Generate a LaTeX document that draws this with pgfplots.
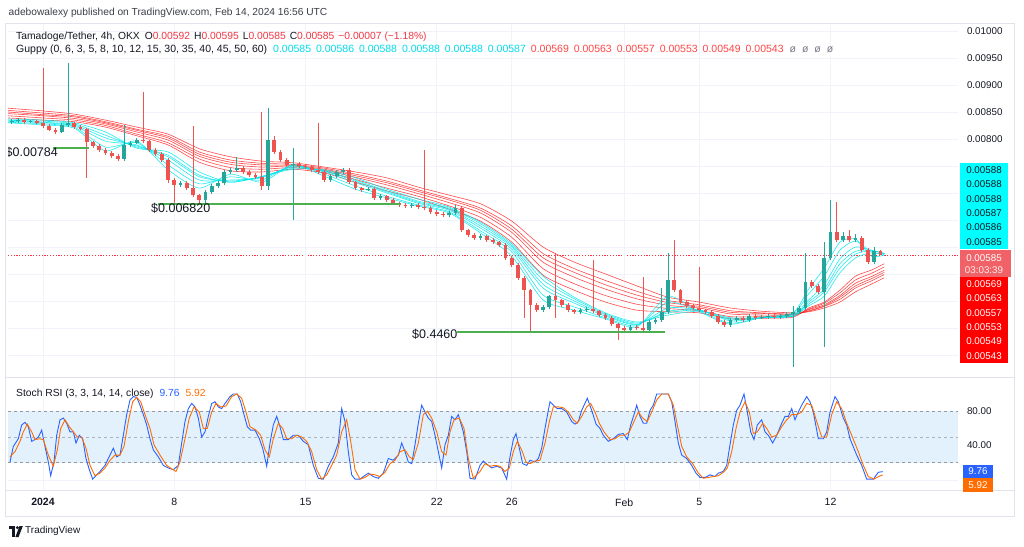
\documentclass[border=0pt]{standalone}
\usepackage{fontspec}
\setmainfont{Liberation Sans}
\usepackage{pgfplots}
\usepackage{pgfplotstable}
\pgfplotsset{compat=1.18}
\definecolor{tvup}{RGB}{38,166,154}
\definecolor{tvdn}{RGB}{239,83,80}
\definecolor{gcyan}{RGB}{0,232,238}
\definecolor{gred}{RGB}{255,30,30}
\definecolor{gridc}{RGB}{240,243,250}
\definecolor{framec}{RGB}{224,227,235}
\definecolor{txt}{RGB}{19,23,34}
\definecolor{hdr}{RGB}{60,63,72}
\definecolor{valred}{RGB}{242,54,69}
\definecolor{legred}{RGB}{255,70,70}
\definecolor{legcyan}{RGB}{0,220,235}
\definecolor{kblue}{RGB}{41,98,255}
\definecolor{dorange}{RGB}{255,109,0}
\definecolor{band}{RGB}{227,241,253}
\definecolor{dashc}{RGB}{150,152,161}
\definecolor{curr}{RGB}{240,98,104}
\definecolor{boxcyan}{RGB}{0,255,255}
\definecolor{boxred}{RGB}{255,0,0}
\definecolor{ograyc}{RGB}{120,123,134}
\newcommand\fs[1]{\fontsize{#1}{#1}\selectfont}

\pgfplotstableread{
k o h l c
-5 0.00831 0.00837 0.00828 0.00833
-4 0.00833 0.00839 0.00830 0.00835
-2 0.00831 0.00836 0.00829 0.00833
3 0.00813 0.00829 0.00811 0.00826
4 0.00826 0.00941 0.00823 0.00830
13 0.00763 0.00826 0.00760 0.00789
14 0.00789 0.00797 0.00786 0.00793
15 0.00793 0.00802 0.00790 0.00798
22 0.00715 0.00722 0.00711 0.00718
26 0.00687 0.00706 0.00680 0.00702
27 0.00702 0.00717 0.00699 0.00713
28 0.00713 0.00722 0.00709 0.00718
29 0.00718 0.00743 0.00715 0.00739
30 0.00739 0.00747 0.00735 0.00743
31 0.00743 0.00767 0.00739 0.00746
36 0.00713 0.00857 0.00706 0.00798
40 0.00752 0.00783 0.00650 0.00754
46 0.00724 0.00735 0.00720 0.00731
47 0.00731 0.00743 0.00727 0.00739
48 0.00739 0.00747 0.00735 0.00743
52 0.00706 0.00711 0.00703 0.00707
54 0.00691 0.00698 0.00687 0.00694
59 0.00676 0.00682 0.00672 0.00678
65 0.00659 0.00667 0.00655 0.00663
66 0.00663 0.00678 0.00659 0.00672
70 0.00617 0.00624 0.00613 0.00620
80 0.00483 0.00493 0.00479 0.00489
81 0.00489 0.00512 0.00485 0.00509
86 0.00480 0.00487 0.00476 0.00483
87 0.00483 0.00489 0.00480 0.00485
94 0.00446 0.00456 0.00442 0.00452
97 0.00446 0.00465 0.00442 0.00461
98 0.00461 0.00469 0.00457 0.00465
99 0.00465 0.00524 0.00461 0.00480
100 0.00480 0.00589 0.00476 0.00539
110 0.00456 0.00469 0.00452 0.00465
111 0.00465 0.00473 0.00461 0.00469
113 0.00465 0.00476 0.00461 0.00472
115 0.00469 0.00474 0.00466 0.00470
116 0.00470 0.00476 0.00467 0.00472
118 0.00470 0.00476 0.00467 0.00472
119 0.00472 0.00480 0.00468 0.00476
120 0.00476 0.00491 0.00378 0.00480
121 0.00480 0.00491 0.00476 0.00487
122 0.00487 0.00589 0.00483 0.00535
125 0.00517 0.00609 0.00415 0.00580
126 0.00580 0.00687 0.00576 0.00628
128 0.00613 0.00628 0.00609 0.00620
130 0.00613 0.00624 0.00609 0.00617
133 0.00572 0.00600 0.00568 0.00592
}\upc

\pgfplotstableread{
k o h l c
-3 0.00835 0.00838 0.00828 0.00831
-1 0.00833 0.00836 0.00827 0.00830
0 0.00830 0.00931 0.00821 0.00824
1 0.00824 0.00827 0.00814 0.00817
2 0.00817 0.00820 0.00809 0.00813
5 0.00830 0.00832 0.00819 0.00822
6 0.00822 0.00825 0.00816 0.00819
7 0.00819 0.00821 0.00728 0.00794
8 0.00794 0.00797 0.00783 0.00787
9 0.00787 0.00790 0.00776 0.00780
10 0.00780 0.00783 0.00770 0.00774
11 0.00774 0.00777 0.00765 0.00769
12 0.00769 0.00772 0.00759 0.00763
16 0.00798 0.00887 0.00792 0.00796
17 0.00796 0.00799 0.00776 0.00780
18 0.00780 0.00783 0.00768 0.00772
19 0.00772 0.00775 0.00757 0.00761
20 0.00761 0.00764 0.00719 0.00724
21 0.00724 0.00728 0.00681 0.00715
23 0.00718 0.00722 0.00705 0.00709
24 0.00709 0.00824 0.00692 0.00696
25 0.00696 0.00699 0.00678 0.00687
32 0.00746 0.00750 0.00735 0.00739
33 0.00739 0.00742 0.00729 0.00733
34 0.00733 0.00737 0.00726 0.00730
35 0.00730 0.00850 0.00705 0.00713
37 0.00798 0.00805 0.00772 0.00776
38 0.00776 0.00780 0.00757 0.00761
39 0.00761 0.00764 0.00748 0.00752
41 0.00754 0.00757 0.00746 0.00750
42 0.00750 0.00753 0.00744 0.00748
43 0.00748 0.00751 0.00739 0.00743
44 0.00743 0.00830 0.00735 0.00739
45 0.00739 0.00742 0.00720 0.00724
49 0.00743 0.00746 0.00716 0.00720
50 0.00720 0.00723 0.00705 0.00709
51 0.00709 0.00712 0.00702 0.00706
53 0.00707 0.00710 0.00687 0.00691
55 0.00694 0.00697 0.00683 0.00687
56 0.00687 0.00690 0.00677 0.00681
57 0.00681 0.00684 0.00674 0.00678
58 0.00678 0.00681 0.00672 0.00676
60 0.00678 0.00681 0.00670 0.00674
61 0.00674 0.00780 0.00668 0.00672
62 0.00672 0.00675 0.00661 0.00665
63 0.00665 0.00668 0.00657 0.00661
64 0.00661 0.00664 0.00655 0.00659
67 0.00672 0.00675 0.00627 0.00631
68 0.00631 0.00634 0.00618 0.00622
69 0.00622 0.00625 0.00613 0.00617
71 0.00620 0.00623 0.00609 0.00613
72 0.00613 0.00616 0.00605 0.00609
73 0.00609 0.00612 0.00600 0.00604
74 0.00604 0.00607 0.00576 0.00580
75 0.00580 0.00583 0.00563 0.00567
76 0.00567 0.00570 0.00539 0.00543
77 0.00543 0.00546 0.00469 0.00520
78 0.00520 0.00523 0.00441 0.00493
79 0.00493 0.00496 0.00479 0.00483
82 0.00509 0.00589 0.00469 0.00501
83 0.00501 0.00504 0.00489 0.00493
84 0.00493 0.00496 0.00479 0.00483
85 0.00483 0.00486 0.00476 0.00480
88 0.00485 0.00576 0.00477 0.00481
89 0.00481 0.00484 0.00470 0.00474
90 0.00474 0.00477 0.00465 0.00469
91 0.00469 0.00472 0.00453 0.00457
92 0.00457 0.00460 0.00428 0.00450
93 0.00450 0.00453 0.00442 0.00446
95 0.00452 0.00455 0.00446 0.00450
96 0.00450 0.00544 0.00441 0.00446
101 0.00539 0.00613 0.00516 0.00520
102 0.00520 0.00523 0.00494 0.00498
103 0.00498 0.00501 0.00487 0.00491
104 0.00491 0.00494 0.00483 0.00487
105 0.00487 0.00563 0.00479 0.00483
106 0.00483 0.00486 0.00476 0.00480
107 0.00480 0.00483 0.00468 0.00472
108 0.00472 0.00475 0.00457 0.00461
109 0.00461 0.00464 0.00452 0.00456
112 0.00469 0.00472 0.00461 0.00465
114 0.00472 0.00475 0.00465 0.00469
117 0.00472 0.00475 0.00466 0.00470
123 0.00535 0.00539 0.00524 0.00528
124 0.00528 0.00531 0.00513 0.00517
127 0.00628 0.00683 0.00609 0.00613
129 0.00620 0.00631 0.00609 0.00613
131 0.00617 0.00620 0.00590 0.00594
132 0.00594 0.00598 0.00568 0.00572
134 0.00592 0.00595 0.00585 0.00585
}\dnc

\pgfplotstableread{
k e3 e5 e8 e10 e12 e15 r30 r35 r40 r45 r50 r60
-5.6 0.00830 0.00831 0.00833 0.00835 0.00835 0.00837 0.00839 0.00843 0.00847 0.00850 0.00853 0.00857
0 0.00826 0.00828 0.00830 0.00831 0.00833 0.00835 0.00835 0.00839 0.00843 0.00845 0.00848 0.00852
5 0.00820 0.00822 0.00824 0.00826 0.00828 0.00830 0.00832 0.00835 0.00838 0.00841 0.00843 0.00846
10 0.00778 0.00785 0.00796 0.00802 0.00807 0.00813 0.00822 0.00825 0.00828 0.00830 0.00832 0.00835
15 0.00796 0.00793 0.00789 0.00787 0.00785 0.00783 0.00806 0.00809 0.00813 0.00816 0.00818 0.00822
20 0.00743 0.00752 0.00761 0.00767 0.00770 0.00776 0.00789 0.00793 0.00798 0.00802 0.00805 0.00809
25 0.00709 0.00717 0.00724 0.00730 0.00733 0.00739 0.00757 0.00763 0.00768 0.00772 0.00776 0.00782
30 0.00735 0.00730 0.00724 0.00722 0.00720 0.00720 0.00741 0.00747 0.00753 0.00757 0.00761 0.00767
35 0.00720 0.00724 0.00728 0.00730 0.00730 0.00731 0.00739 0.00744 0.00748 0.00752 0.00755 0.00759
40 0.00752 0.00752 0.00750 0.00748 0.00746 0.00744 0.00744 0.00747 0.00750 0.00751 0.00753 0.00756
45 0.00731 0.00735 0.00739 0.00741 0.00741 0.00743 0.00737 0.00740 0.00742 0.00744 0.00746 0.00748
50 0.00707 0.00713 0.00719 0.00722 0.00724 0.00728 0.00720 0.00725 0.00729 0.00732 0.00735 0.00739
55 0.00691 0.00694 0.00700 0.00702 0.00704 0.00707 0.00704 0.00709 0.00715 0.00719 0.00722 0.00728
60 0.00676 0.00678 0.00681 0.00683 0.00685 0.00689 0.00689 0.00694 0.00699 0.00703 0.00706 0.00711
65 0.00663 0.00665 0.00668 0.00670 0.00672 0.00674 0.00670 0.00676 0.00682 0.00687 0.00690 0.00696
70 0.00626 0.00630 0.00635 0.00639 0.00643 0.00646 0.00648 0.00655 0.00663 0.00668 0.00672 0.00680
75 0.00583 0.00591 0.00596 0.00600 0.00603 0.00606 0.00609 0.00618 0.00627 0.00633 0.00639 0.00648
80 0.00502 0.00511 0.00524 0.00531 0.00539 0.00546 0.00548 0.00560 0.00572 0.00580 0.00588 0.00600
85 0.00483 0.00489 0.00496 0.00500 0.00504 0.00507 0.00520 0.00532 0.00544 0.00553 0.00560 0.00572
90 0.00467 0.00469 0.00472 0.00474 0.00476 0.00478 0.00498 0.00510 0.00522 0.00530 0.00538 0.00550
95 0.00452 0.00454 0.00456 0.00457 0.00459 0.00461 0.00483 0.00494 0.00504 0.00511 0.00518 0.00528
100 0.00509 0.00498 0.00487 0.00481 0.00478 0.00474 0.00480 0.00486 0.00492 0.00497 0.00501 0.00507
105 0.00480 0.00481 0.00483 0.00483 0.00483 0.00481 0.00478 0.00482 0.00487 0.00490 0.00493 0.00498
110 0.00457 0.00459 0.00463 0.00465 0.00467 0.00469 0.00467 0.00471 0.00476 0.00479 0.00482 0.00487
115 0.00470 0.00469 0.00469 0.00469 0.00469 0.00469 0.00468 0.00471 0.00474 0.00477 0.00478 0.00481
120 0.00478 0.00476 0.00474 0.00472 0.00472 0.00472 0.00470 0.00472 0.00474 0.00475 0.00476 0.00478
122.5 0.00522 0.00513 0.00502 0.00498 0.00494 0.00491 0.00487 0.00485 0.00484 0.00482 0.00481 0.00480
125 0.00561 0.00546 0.00530 0.00522 0.00517 0.00509 0.00498 0.00496 0.00493 0.00491 0.00490 0.00487
127.5 0.00609 0.00594 0.00578 0.00569 0.00561 0.00552 0.00520 0.00515 0.00510 0.00507 0.00503 0.00498
130 0.00615 0.00611 0.00600 0.00592 0.00587 0.00580 0.00546 0.00539 0.00533 0.00528 0.00524 0.00517
132.5 0.00583 0.00591 0.00594 0.00594 0.00593 0.00589 0.00557 0.00551 0.00545 0.00541 0.00537 0.00531
134.6 0.00585 0.00586 0.00588 0.00588 0.00588 0.00587 0.00569 0.00563 0.00557 0.00553 0.00549 0.00543
}\gmma

\pgfplotstableread{
k v
-5.28 21
-4.75 39
-3.95 48
-3.41 64
-2.88 67
-2.35 62
-1.81 45
-1.28 47
-0.75 50
-0.21 58
0.32 39
0.85 21
1.23 5
1.76 21
2.19 52
2.72 70
3.25 72
3.79 66
4.32 56
4.85 56
5.28 43
5.81 52
6.35 48
6.88 25
7.41 12
7.95 1
8.59 6
9.12 10
9.92 17
10.72 29
11.25 37
11.79 27
12.32 29
12.85 52
13.39 76
13.92 93
14.45 97
14.99 96
15.52 87
16.05 76
16.59 64
17.12 48
17.65 35
18.45 27
19.25 17
20.05 14
20.85 12
21.65 17
22.19 43
22.72 68
23.25 83
23.79 89
24.32 85
24.85 72
25.39 50
25.92 56
26.45 74
26.99 89
27.52 91
28.05 85
28.59 83
29.12 89
29.92 97
30.45 100
31.09 100
31.63 91
32.16 76
32.69 62
33.23 58
33.92 58
34.61 48
35.15 37
35.79 16
36.32 43
36.85 64
37.39 74
37.92 62
38.45 47
39.25 47
40.05 52
40.85 52
41.65 45
42.45 41
43.25 17
44.05 2
44.85 1
45.65 16
46.45 27
47.25 43
47.79 83
48.32 68
48.85 33
49.39 6
49.92 1
50.72 1
51.25 4
52.05 8
52.85 4
53.65 2
54.45 8
55.25 25
56.05 23
56.85 29
57.39 43
57.92 33
58.45 21
58.99 19
59.52 41
60.05 66
60.59 87
61.12 79
61.65 72
62.19 68
62.72 52
63.25 33
63.79 14
64.32 41
64.85 52
65.39 74
65.92 70
66.45 76
67.25 56
67.79 33
68.32 2
69.12 1
69.92 17
70.45 22
71.25 17
71.79 14
72.59 16
73.39 14
74.19 1
74.72 27
75.25 47
75.68 54
76.21 37
76.75 19
77.39 17
77.92 23
78.72 21
79.25 25
79.79 37
80.32 60
80.85 81
81.12 91
81.65 87
82.29 83
82.99 83
83.79 79
84.59 68
85.12 65
85.65 68
86.19 81
87.09 95
87.79 81
88.48 65
89.12 60
89.65 52
90.45 45
91.25 48
92.05 53
92.85 54
93.49 47
94.03 64
94.56 76
94.99 87
95.52 74
96.05 66
96.59 66
97.12 81
97.65 87
98.19 100
99.25 100
100.05 100
100.59 91
101.12 68
101.65 43
102.19 29
102.99 25
103.79 17
104.48 8
105.12 3
105.92 3
106.72 6
107.52 4
108.05 8
108.85 10
109.39 17
109.92 41
110.45 64
110.99 81
111.52 87
112.16 100
112.69 79
113.23 56
113.76 47
114.29 64
114.99 70
115.52 56
116.05 52
116.75 43
117.39 52
118.19 66
118.72 74
119.25 74
119.79 83
120.32 70
120.85 79
121.39 87
122.19 97
122.72 91
123.25 79
124.05 48
124.85 48
125.39 56
125.92 79
126.72 97
127.25 91
128.05 72
128.59 64
129.12 48
130.19 29
130.99 17
131.79 1
132.85 1
133.65 9
134.35 9.76
}\kline

\pgfplotstableread{
k v
-5.28 27
-4.48 33
-3.68 45
-3.15 56
-2.51 65
-1.81 56
-1.28 47
-0.59 48
0.05 47
0.85 29
1.65 16
2.29 35
2.83 60
3.52 70
4.21 62
4.85 56
5.49 50
6.19 50
6.88 37
7.52 17
8.32 5
9.12 8
9.92 14
10.72 23
11.52 29
12.32 29
12.96 39
13.65 68
14.35 91
14.99 96
15.63 91
16.32 76
17.12 60
17.76 41
18.72 29
19.79 17
20.59 13
21.28 10
21.92 21
22.72 48
23.41 72
24.16 85
25.01 79
25.65 60
26.29 60
26.99 79
27.68 89
28.43 85
29.28 86
30.19 97
30.99 100
31.79 95
32.48 79
33.12 62
34.08 58
34.83 52
35.52 35
36.21 27
36.85 48
37.65 66
38.35 60
38.99 48
39.79 48
40.59 52
41.39 50
42.19 45
42.99 33
43.79 12
44.59 1
45.39 6
46.19 17
46.99 29
47.79 56
48.59 70
49.23 45
49.92 12
50.72 1
51.52 3
52.32 7
53.12 6
53.92 4
54.72 9
55.52 19
56.32 23
57.12 33
57.92 35
58.61 27
59.25 24
60.05 43
60.85 76
61.49 80
62.19 72
62.99 56
63.79 33
64.48 29
65.12 56
65.76 70
66.61 72
67.36 60
68.05 25
68.85 2
69.92 10
70.72 19
71.52 16
72.32 17
73.12 16
73.92 10
74.61 14
75.25 33
75.89 45
76.59 35
77.28 21
77.92 19
78.72 22
79.52 23
80.32 43
81.01 68
81.65 85
82.45 85
83.25 84
84.05 79
84.85 70
85.49 66
86.19 74
86.99 85
87.63 89
88.32 79
89.01 66
89.76 56
90.72 47
91.52 48
92.32 52
93.12 52
93.81 56
94.56 68
95.25 79
95.95 72
96.69 68
97.39 79
98.19 93
98.99 100
100.05 100
100.85 87
101.49 64
102.19 39
102.99 27
103.95 19
104.85 8
105.65 2
106.45 3
107.25 4
108.05 5
108.85 9
109.49 14
110.19 33
110.88 60
111.52 79
112.32 91
113.01 79
113.65 54
114.29 56
115.15 66
115.79 60
116.59 50
117.39 52
118.19 62
118.99 70
119.79 76
120.59 76
121.39 79
122.19 89
122.99 87
123.79 68
124.59 50
125.39 50
126.19 76
126.99 91
127.79 83
128.59 66
129.39 52
130.45 33
131.25 17
132.05 4
132.96 1
133.65 4
134.35 5.92
}\dline

\begin{document}
\begin{tikzpicture}[x=1pt,y=1pt]
\path[use as bounding box, fill=white] (0,0) rectangle (1024,546);

% current price dotted line (0.00585), behind the chart content
\draw[draw={rgb,255:red,242;green,54;blue,69}, dash pattern=on 1.2pt off 1.6pt, line width=0.8pt] (8,290.9) -- (960,290.9);

% ---------------- price pane ----------------
\begin{axis}[
  at={(8pt,169pt)}, anchor=south west, scale only axis,
  width=950pt, height=354pt,
  xmin=-5.6, xmax=146.4, ymin=0.0035925, ymax=0.010148,
  axis line style={draw=none}, major tick length=0pt,
  scaled y ticks=false, scaled x ticks=false,
  xtick={0,21,42,63,75,93,105,126}, xticklabels={},
  ytick={0.004,0.0045,0.005,0.0055,0.006,0.0065,0.007,0.0075,0.008,0.0085,0.009,0.0095,0.01},
  yticklabels={,,,,,,,,0.00800,0.00850,0.00900,0.00950,0.01000},
  yticklabel pos=right,
  yticklabel style={font=\fs{9.8}, text=txt, xshift=5.5pt},
  grid=major, grid style={gridc, line width=0.8pt},
]
% Guppy long (red)
\foreach \c in {r30,r35,r40,r45,r50,r60}{
  \addplot[gred, opacity=0.8, line width=0.6pt, smooth, tension=0.4, forget plot] table[x=k,y=\c]{\gmma};
}
% Guppy short (cyan)
\foreach \c in {e3,e5,e8,e10,e12,e15}{
  \addplot[gcyan, opacity=0.85, line width=0.6pt, smooth, tension=0.4, forget plot] table[x=k,y=\c]{\gmma};
}
% candles: wicks
\addplot[draw=none, forget plot, error bars/.cd, y dir=plus, y explicit, error mark=none,
  error bar style={draw=tvup, line width=0.9pt}]
  table[x=k, y=l, y error plus expr={\thisrow{h}-\thisrow{l}}]{\upc};
\addplot[draw=none, forget plot, error bars/.cd, y dir=plus, y explicit, error mark=none,
  error bar style={draw=tvdn, line width=0.9pt}]
  table[x=k, y=l, y error plus expr={\thisrow{h}-\thisrow{l}}]{\dnc};
% candles: bodies
\addplot[draw=none, forget plot, error bars/.cd, y dir=plus, y explicit, error mark=none,
  error bar style={draw=tvup, line width=3.6pt}]
  table[x=k, y=o, y error plus expr={\thisrow{c}-\thisrow{o}}]{\upc};
\addplot[draw=none, forget plot, error bars/.cd, y dir=plus, y explicit, error mark=none,
  error bar style={draw=tvdn, line width=3.6pt}]
  table[x=k, y=c, y error plus expr={\thisrow{o}-\thisrow{c}}]{\dnc};
\end{axis}

% level lines (support levels 0.00783, 0.00680, 0.00443)
\draw[draw={rgb,255:red,76;green,175;blue,80}, line width=1.5pt] (53,397.8) -- (89,397.8);
\draw[draw={rgb,255:red,76;green,175;blue,80}, line width=1.5pt] (158,342.2) -- (400,342.2);
\draw[draw={rgb,255:red,76;green,175;blue,80}, line width=1.5pt] (457,214.2) -- (665,214.2);

% ---------------- Stoch RSI pane ----------------
\begin{axis}[
  at={(8pt,56pt)}, anchor=south west, scale only axis,
  width=950pt, height=112pt,
  xmin=-5.6, xmax=146.4, ymin=-11.6, ymax=118.6,
  axis line style={draw=none}, major tick length=0pt,
  xtick={0,21,42,63,75,93,105,126},
  xticklabels={\textbf{2024},8,15,22,26,Feb,5,12},
  xticklabel style={font=\fs{10.5}, text=txt, yshift=-5pt},
  ytick={0,40,80}, yticklabels={,40.00,80.00},
  yticklabel pos=right,
  yticklabel style={font=\fs{9.8}, text=txt, xshift=5.5pt},
  grid=major, grid style={gridc, line width=0.8pt},
]
\fill[band] (axis cs:-5.6,20) rectangle (axis cs:146.4,80);
\draw[dashc, dash pattern=on 3pt off 3pt, line width=0.7pt] (axis cs:-5.6,80) -- (axis cs:146.4,80);
\draw[dashc, dash pattern=on 3pt off 3pt, line width=0.5pt, opacity=0.7] (axis cs:-5.6,50) -- (axis cs:146.4,50);
\draw[dashc, dash pattern=on 3pt off 3pt, line width=0.7pt] (axis cs:-5.6,20) -- (axis cs:146.4,20);
\addplot[kblue, line width=0.9pt, forget plot] table[x=k,y=v]{\kline};
\addplot[dorange, line width=0.9pt, forget plot] table[x=k,y=v]{\dline};
\end{axis}

% ---------------- frame and separators ----------------
\draw[framec, line width=0.8pt] (5,30) rectangle (1014,523);
\draw[framec, line width=1pt] (5,168.5) -- (1014,168.5);
\draw[framec, line width=0.6pt] (5,56) -- (1014,56);

% ---------------- annotations ----------------
\begin{scope}
\clip (8,169) rectangle (958,523);
\node[anchor=west, inner sep=0, font=\fs{12.5}, text=txt] at (5.5,394) {\$0.00784};
\node[anchor=west, inner sep=0, font=\fs{12.5}, text=txt] at (151,337.5) {\$0.006820};
\node[anchor=west, inner sep=0, font=\fs{12.5}, text=txt] at (412,212) {\$0.4460};
\end{scope}

% ---------------- header and legends ----------------
\node[anchor=west, inner sep=0, font=\fs{10.2}, text=hdr] at (8.5,533) {adebowalexy published on TradingView.com, Feb 14, 2024 16:56 UTC};
\node[anchor=west, inner sep=0, font=\fs{10.3}, text=txt] at (16,509) {Tamadoge/Tether, 4h, OKX\hspace{5pt}O{\color{valred}0.00592}\hspace{4pt}H{\color{valred}0.00595}\hspace{4pt}L{\color{valred}0.00585}\hspace{4pt}C{\color{valred}0.00585\hspace{4pt}−0.00007 (−1.18\%)}};
\node[anchor=west, inner sep=0, font=\fs{10.5}, text=txt] at (16,496) {Guppy (0, 6, 3, 5, 8, 10, 12, 15, 30, 35, 40, 45, 50, 60)\hspace{6pt}{\color{legcyan}0.00585\hspace{5pt}0.00586\hspace{5pt}0.00588\hspace{5pt}0.00588\hspace{5pt}0.00588\hspace{5pt}0.00587}\hspace{5pt}{\color{legred}0.00569\hspace{5pt}0.00563\hspace{5pt}0.00557\hspace{5pt}0.00553\hspace{5pt}0.00549\hspace{5pt}0.00543}\hspace{6pt}{\color{ograyc}ø\hspace{6pt}ø\hspace{6pt}ø\hspace{6pt}ø}};
\node[anchor=west, inner sep=0, font=\fs{10.3}, text=txt] at (16,152) {Stoch RSI (3, 3, 14, 14, close)\hspace{6pt}{\color{kblue}9.76}\hspace{6pt}{\color{dorange}5.92}};

% ---------------- price scale labels ----------------
\foreach \yy/\lab in {376.1/0.00588,361.7/0.00588,347.2/0.00588,332.8/0.00587,318.4/0.00586,303.9/0.00585}{
  \node[fill=boxcyan, minimum width=48pt, minimum height=14.5pt, inner sep=0, font=\fs{9.8}, text=txt] at (984,\yy) {\lab};
}
\node[fill=curr, minimum width=51pt, minimum height=27pt, inner sep=0] at (985.5,282.5) {};
\node[inner sep=0, font=\fs{9.8}, text=white] at (984,288.3) {0.00585};
\node[inner sep=0, font=\fs{9.8}, text=white!92!red] at (984,276) {03:03:39};
\foreach \yy/\lab in {261.8/0.00569,247.5/0.00563,233.2/0.00557,218.8/0.00553,204.5/0.00549,190.2/0.00543}{
  \node[fill=boxred, minimum width=48pt, minimum height=14.4pt, inner sep=0, font=\fs{9.8}, text=white] at (984,\yy) {\lab};
}
\node[fill=kblue, minimum width=30pt, minimum height=13.5pt, inner sep=0, font=\fs{9.8}, text=white] at (978,74.5) {9.76};
\node[fill=dorange, minimum width=30pt, minimum height=14pt, inner sep=0, font=\fs{9.8}, text=white] at (978,61) {5.92};

% ---------------- TradingView logo ----------------
\fill[txt] (9,17) rectangle (15,20);
\fill[txt] (12,9) rectangle (15,20);
\fill[txt] (17.3,18.4) circle (1.6);
\fill[txt] (19.5,20) -- (22.8,20) -- (18.6,9) -- (15.4,9) -- cycle;
\node[anchor=west, inner sep=0, font=\fs{10}, text=txt] at (25,15) {TradingView};
\end{tikzpicture}
\end{document}
